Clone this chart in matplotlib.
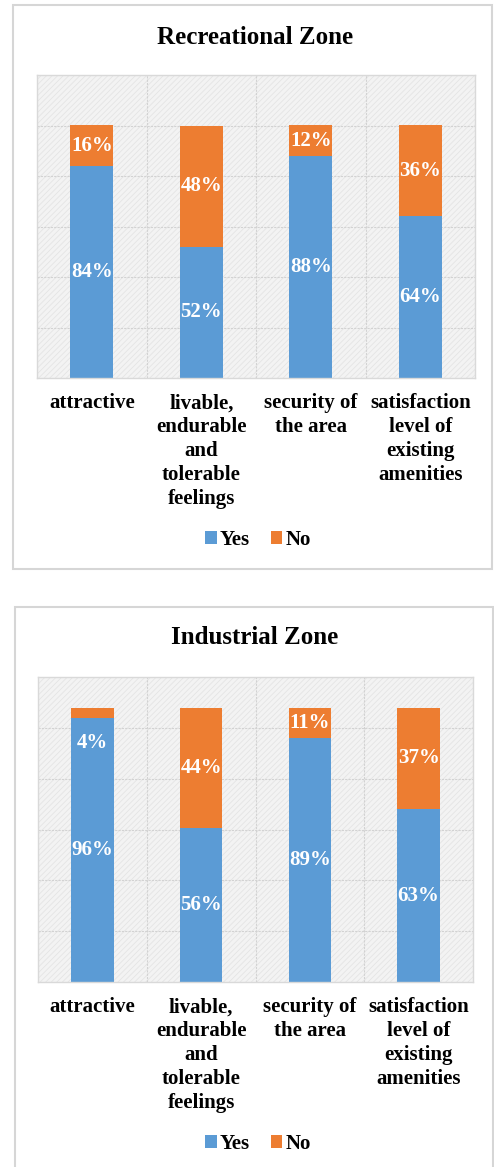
import numpy as np
import matplotlib.pyplot as plt
from matplotlib.patches import Rectangle

plt.rcParams['font.family'] = ['Liberation Serif', 'DejaVu Serif']
plt.rcParams['font.weight'] = 'bold'
plt.rcParams['hatch.linewidth'] = 0.6

# survey answers, share of respondents
categories = ['attractive', 'livable,\nendurable\nand\ntolerable\nfeelings',
              'security of\nthe area', 'satisfaction\nlevel of\nexisting\namenities']
rec_yes = [0.84, 0.52, 0.88, 0.64]
rec_no = [0.16, 0.48, 0.12, 0.36]
ind_yes = [0.96, 0.56, 0.89, 0.63]
ind_no = [0.04, 0.44, 0.11, 0.37]

BLUE = '#5b9bd5'
ORANGE = '#ed7d31'
W, H = 494, 1167

fig = plt.figure(figsize=(W / 100, H / 100), dpi=100)


def px_axes(x0, y0, x1, y1):
    # pixel box (top-left origin) -> figure axes
    return fig.add_axes([x0 / W, 1 - y1 / H, (x1 - x0) / W, (y1 - y0) / H])


def frame(x0, y0, x1, y1):
    fig.patches.append(Rectangle((x0 / W, 1 - y1 / H), (x1 - x0) / W, (y1 - y0) / H,
                                 transform=fig.transFigure, fill=False,
                                 edgecolor='#d6d6d6', lw=1.5, zorder=0))


def panel(ax, yes, no, ymax, title, title_y, legend_y):
    x = np.arange(len(categories))
    ax.set_xlim(-0.5, 3.5)
    ax.set_ylim(0, ymax)
    ax.set_facecolor('#f3f3f3')
    ax.add_patch(Rectangle((0, 0), 1, 1, transform=ax.transAxes, fill=False,
                           hatch='//////', edgecolor='#e4e4e4', lw=0, zorder=0))
    for yv in np.linspace(0, ymax, 7)[1:-1]:
        ax.axhline(yv, color='#d2d2d2', lw=0.8, ls=(0, (2, 1)), zorder=1)
    for xv in [0.5, 1.5, 2.5]:
        ax.axvline(xv, color='#d2d2d2', lw=0.8, ls=(0, (2, 1)), zorder=1)
    for s in ax.spines.values():
        s.set_color('#d9d9d9')
        s.set_linewidth(1.0)

    b1 = ax.bar(x, yes, 0.39, color=BLUE, label='Yes', zorder=2)
    b2 = ax.bar(x, no, 0.39, bottom=yes, color=ORANGE, label='No', zorder=2)

    for i in range(len(x)):
        ax.text(x[i], yes[i] / 2, f'{yes[i] * 100:.0f}%', color='white',
                ha='center', va='center', fontsize=15, zorder=3)
        yl = yes[i] + no[i] / 2
        if no[i] < 0.06:
            # thin slice: put the label just under it
            yl = yes[i] - 0.09
        ax.text(x[i], yl, f'{no[i] * 100:.0f}%', color='white',
                ha='center', va='center', fontsize=15, zorder=3)

    ax.set_yticks([])
    ax.set_xticks(x)
    ax.set_xticklabels(categories, fontsize=15, linespacing=1.26)
    ax.tick_params(axis='x', length=0, pad=11)

    fig.text(0.516, 1 - title_y / H, title, ha='center', va='center', fontsize=18)
    fig.legend([b1, b2], ['Yes', 'No'], loc='center', ncol=2,
               bbox_to_anchor=(0.522, 1 - legend_y / H), frameon=False,
               fontsize=15, handlelength=0.55, handleheight=0.55,
               handletextpad=0.15, columnspacing=1.0)


frame(13, 5, 492, 569)
frame(15, 607, 493, 1175)

ax1 = px_axes(37, 75, 475, 378)
panel(ax1, rec_yes, rec_no, 1.2, 'Recreational Zone', 37, 540)

ax2 = px_axes(38, 677, 473, 982)
panel(ax2, ind_yes, ind_no, 1 / 0.9, 'Industrial Zone', 638, 1144)

fig.savefig('out.png', dpi=100)
